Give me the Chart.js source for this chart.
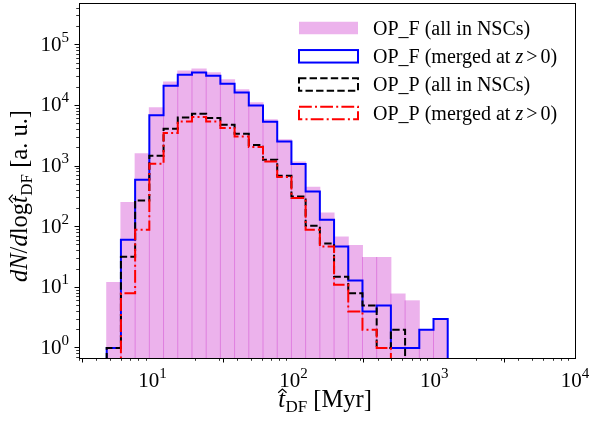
<!DOCTYPE html>
<html><head><meta charset="utf-8">
<script src="https://cdn.jsdelivr.net/npm/chart.js@4/dist/chart.umd.min.js"></script>
<style>html,body{margin:0;padding:0;background:#fff}#c{display:block}</style>
</head><body>
<canvas id="c" width="591" height="432"></canvas>
<script>
// ---- data ----
const binEdges = [4.72,5.955,7.513,9.478,11.96,15.09,19.03,24.01,30.29,38.21,48.21,60.82,76.73,96.80,122.1,154.1,194.4,245.2,309.4,390.3,492.4,621.2,783.7,988.7,1247];
const opfAll    = [12,251,1600,9150,24500,37000,39900,34500,26500,18100,11070,5800,2720,1165,448,168,68,49,31,31,7.8,6,2,3];
const opfMerged = [1,61,595,6880,21100,32000,34900,30800,22750,16350,9950,5380,2550,1080,382,130,47,13,4,5,1,1,2,3];
const oppAll    = [1,32,271,1480,4120,6340,7280,6190,4800,3410,2220,1270,692,316,104,53,15,8,5,1,2,0,0,0];
const oppMerged = [0,8,89,1090,3500,5440,6430,5440,4235,3080,2060,1190,659,297,89,47,11,4,2,1,0,0,0,0];
const seriesNames = ['OP_F (all in NSCs)','OP_F (merged at z > 0)','OP_P (all in NSCs)','OP_P (merged at z > 0)'];
const xTickExps = [1,2,3,4];
const yTickExps = [0,1,2,3,4,5];
const xRange = [3, 1e4];
const yRange = [0.684, 4.9e5];

// ---- helpers ----
const FLOOR = 1e-3; // log-scale stand-in for empty bins (drawn below the axis, clipped)
const FONT = '"Liberation Serif","Times New Roman",serif';
function fnt(size, italic){ return (italic?'italic ':'') + size + 'px ' + FONT; }
function barPoints(vals){ return vals.map((v,i)=>({x: Math.sqrt(binEdges[i]*binEdges[i+1]), y: v})); }
function stepPoints(vals){
  const pts = [{x: binEdges[0], y: FLOOR}];
  vals.forEach((v,i)=>pts.push({x: binEdges[i], y: v>0 ? v : FLOOR}));
  pts.push({x: binEdges[vals.length], y: FLOOR});
  return pts;
}
function segW(ctx, s){ ctx.font = fnt(s.size, s.it); return ctx.measureText(s.t).width; }
function richWidth(ctx, segs){ return segs.reduce((w,s)=>w + segW(ctx,s) + (s.gap||0), 0); }
function drawRich(ctx, segs, x, y){
  let cx = x;
  segs.forEach(s=>{
    const w = segW(ctx, s);
    ctx.fillText(s.t, cx, y + (s.dy||0));
    if (s.hat){
      const hx = cx + w*0.62, hs = s.size;
      ctx.beginPath();
      ctx.moveTo(hx - 0.17*hs, y - 0.58*hs);
      ctx.lineTo(hx, y - 0.73*hs);
      ctx.lineTo(hx + 0.17*hs, y - 0.58*hs);
      ctx.lineWidth = 1.2; ctx.strokeStyle = '#000'; ctx.stroke();
    }
    cx += w + (s.gap||0);
  });
}

const colors = {
  pink: 'rgba(191,0,191,0.3)', blue: '#0000ff', black: '#000000', red: '#ff0000'
};
const dashes = { blue: [], black: [7.4,3.2], red: [12.8,3.2,2,3.2] };

const decor = {
  id: 'decor',
  afterDraw(chart){
    const ctx = chart.ctx, xs = chart.scales.x, ys = chart.scales.y, a = chart.chartArea;
    const al = p => Math.round(p - 0.5) + 0.5;
    ctx.save();
    // minor ticks
    ctx.strokeStyle = '#000'; ctx.lineWidth = 0.8; ctx.setLineDash([]);
    ctx.beginPath();
    for (let e = -1; e <= 5; e++) for (let m = 2; m <= 9; m++){
      const v = m*Math.pow(10,e);
      if (v >= xs.min && v <= xs.max){ const p = al(xs.getPixelForValue(v)); ctx.moveTo(p, a.bottom); ctx.lineTo(p, a.bottom + 2.8); }
      if (v >= ys.min && v <= ys.max){ const p = al(ys.getPixelForValue(v)); ctx.moveTo(a.left, p); ctx.lineTo(a.left - 2.8, p); }
    }
    ctx.stroke();
    // frame
    ctx.lineWidth = 1;
    ctx.strokeRect(al(a.left), al(a.top), al(a.right) - al(a.left), al(a.bottom) - al(a.top));
    // tick labels
    ctx.fillStyle = '#000'; ctx.textBaseline = 'alphabetic'; ctx.textAlign = 'left';
    xTickExps.forEach(e=>{
      const px = xs.getPixelForValue(Math.pow(10,e));
      const segs = [{t:'10', size:21}, {t:String(e), size:15, dy:-9}];
      drawRich(ctx, segs, px - richWidth(ctx, segs)/2, a.bottom + 29);
    });
    yTickExps.forEach(e=>{
      const py = ys.getPixelForValue(Math.pow(10,e));
      const segs = [{t:'10', size:21}, {t:String(e), size:15, dy:-9}];
      drawRich(ctx, segs, a.left - 10 - richWidth(ctx, segs), py + 6);
    });
    // x title
    const L = 24.5, S = 17;
    const xt = [{t:'t', size:L, it:true, hat:true, gap:0.5}, {t:'DF', size:S, dy:4.5}, {t:' [Myr]', size:L}];
    drawRich(ctx, xt, (a.left + a.right)/2 - 2 - richWidth(ctx, xt)/2, 407);
    // y title
    const yt = [{t:'d', size:L, it:true}, {t:'N', size:L, it:true}, {t:'/', size:L}, {t:'d', size:L, it:true},
                {t:'log', size:L}, {t:'t', size:L, it:true, hat:true, gap:0.5}, {t:'DF', size:S, dy:4.5}, {t:' [a. u.]', size:L}];
    ctx.save();
    ctx.translate(27, 196);
    ctx.rotate(-Math.PI/2);
    drawRich(ctx, yt, -richWidth(ctx, yt)/2, 0);
    ctx.restore();
    // legend
    const rows = [28, 56.3, 84.6, 112.9];
    const hx = 299, hw = 59, hh = 12.5, tx = 373;
    const styles = [
      {fill: colors.pink},
      {stroke: colors.blue, dash: dashes.blue},
      {stroke: colors.black, dash: dashes.black},
      {stroke: colors.red, dash: dashes.red}
    ];
    rows.forEach((cy, i)=>{
      const st = styles[i];
      if (st.fill){ ctx.fillStyle = st.fill; ctx.fillRect(hx, cy - hh/2, hw, hh); }
      else {
        ctx.strokeStyle = st.stroke; ctx.lineWidth = 2; ctx.setLineDash(st.dash);
        ctx.strokeRect(hx, cy - hh/2, hw, hh); ctx.setLineDash([]);
      }
      ctx.fillStyle = '#000';
      const name = seriesNames[i];
      let segs;
      const zi = name.indexOf('z > 0');
      if (zi >= 0){
        segs = [{t: name.slice(0, zi), size:20}, {t:'z', size:20, it:true, gap:3}, {t:'>', size:20, gap:3}, {t: name.slice(zi+4), size:20}];
      } else segs = [{t: name, size:20}];
      drawRich(ctx, segs, tx, cy + 6.8);
    });
    ctx.restore();
  }
};

const lineDs = (label, vals, col, dash, order) => ({
  type: 'line', label, data: stepPoints(vals), stepped: 'before',
  borderColor: col, borderWidth: 2, borderDash: dash, borderCapStyle: 'butt', borderJoinStyle: 'miter',
  pointRadius: 0, fill: false, tension: 0, order, clip: 0
});

new Chart(document.getElementById('c'), {
  type: 'bar',
  data: {
    datasets: [
      { type: 'bar', label: seriesNames[0], data: barPoints(opfAll), backgroundColor: colors.pink,
        borderWidth: 0, barThickness: 'flex', barPercentage: 1, categoryPercentage: 1,
        inflateAmount: 0.5, order: 4, clip: 0 },
      lineDs(seriesNames[1], opfMerged, colors.blue, dashes.blue, 3),
      lineDs(seriesNames[2], oppAll, colors.black, dashes.black, 2),
      lineDs(seriesNames[3], oppMerged, colors.red, dashes.red, 1)
    ]
  },
  options: {
    responsive: false, animation: false, devicePixelRatio: 1,
    layout: { padding: { left: 0, top: 3, right: 16, bottom: 0 } },
    plugins: { legend: { display: false }, tooltip: { enabled: false } },
    scales: {
      x: { type: 'logarithmic', min: xRange[0], max: xRange[1], offset: false,
           afterBuildTicks: s => { s.ticks = xTickExps.map(e => ({ value: Math.pow(10, e), major: true })); },
           afterFit: s => { s.height = 74; },
           ticks: { display: false },
           grid: { drawOnChartArea: false, drawTicks: true, tickLength: 4.5, tickColor: '#000', tickWidth: 1 },
           border: { display: true, color: '#000', width: 1 } },
      y: { type: 'logarithmic', min: yRange[0], max: yRange[1],
           afterBuildTicks: s => { s.ticks = yTickExps.map(e => ({ value: Math.pow(10, e), major: true })); },
           afterFit: s => { s.width = 79; },
           ticks: { display: false },
           grid: { drawOnChartArea: false, drawTicks: true, tickLength: 4.5, tickColor: '#000', tickWidth: 1 },
           border: { display: true, color: '#000', width: 1 } }
    }
  },
  plugins: [decor]
});
</script>
</body></html>
